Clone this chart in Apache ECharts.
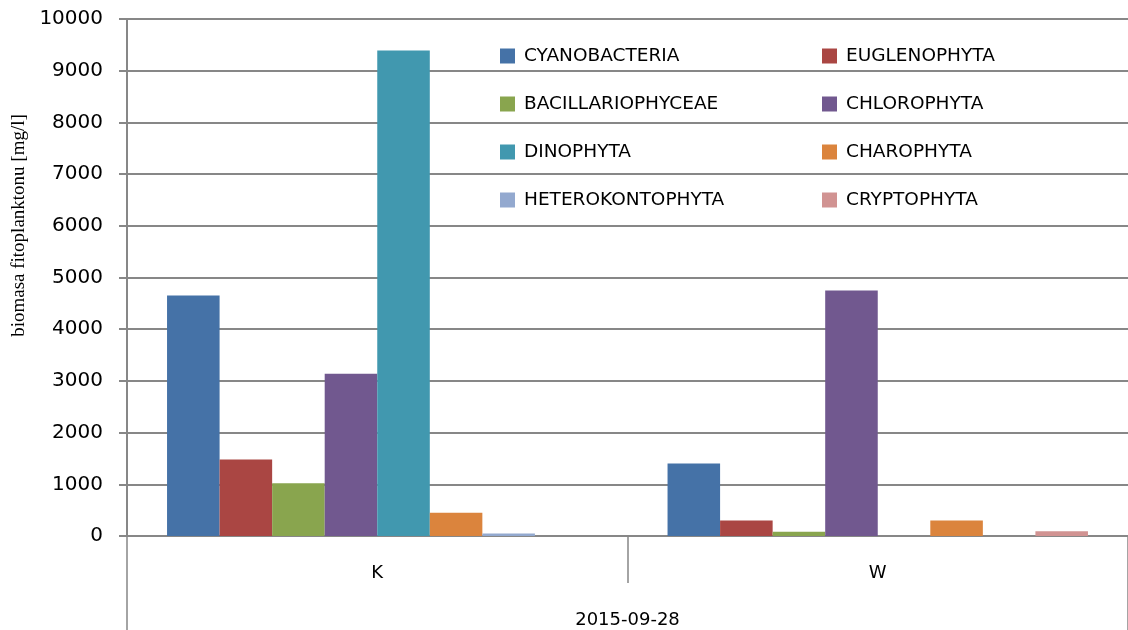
<!DOCTYPE html>
<html>
<head>
<meta charset="utf-8">
<script src="https://cdn.jsdelivr.net/npm/echarts@6/dist/echarts.min.js"></script>
<style>
  html, body { margin: 0; padding: 0; background: #fff; }
  #main { width: 1128px; height: 630px; }
</style>
</head>
<body>
<div id="main"></div>
<script>
// sites and date
var sites = ['K', 'W'];
var dates = ['2015-09-28'];
var yTicks = [0, 10000, 1000]; // min, max, step

// biomass per group, [K, W]
var cyanobacteria     = [4650, 1400];
var euglenophyta      = [1480, 300];
var bacillariophyceae = [1020, 80];
var chlorophyta       = [3140, 4750];
var dinophyta         = [9390, 0];
var charophyta        = [450, 300];
var heterokontophyta  = [50, 0];
var cryptophyta       = [0, 90];

var names = ['CYANOBACTERIA', 'EUGLENOPHYTA', 'BACILLARIOPHYCEAE', 'CHLOROPHYTA',
             'DINOPHYTA', 'CHAROPHYTA', 'HETEROKONTOPHYTA', 'CRYPTOPHYTA'];
var values = [cyanobacteria, euglenophyta, bacillariophyceae, chlorophyta,
              dinophyta, charophyta, heterokontophyta, cryptophyta];
var colors = ['#4572A7', '#AA4643', '#89A54E', '#71588F',
              '#4198AF', '#DB843D', '#93A9CF', '#D19392'];

var gridColor = '#878787';
var font = 'DejaVu Sans';

var chart = echarts.init(document.getElementById('main'));

var series = names.map(function (n, i) {
    return {
        name: n,
        type: 'bar',
        barGap: 0,
        barCategoryGap: '16%',
        itemStyle: { color: colors[i] },
        data: values[i]
    };
});

chart.setOption({
    animation: false,
    color: colors,
    grid: { left: 127, right: -4, top: 19, bottom: 94 },
    legend: {
        left: 495,
        top: 27,
        width: 660,
        orient: 'horizontal',
        itemWidth: 15,
        itemHeight: 15,
        itemGap: 0,
        icon: 'rect',
        textStyle: { fontFamily: font, fontSize: 18.5, color: '#000', width: 298, lineHeight: 48, padding: [0, 0, 0, 4] },
        data: names
    },
    xAxis: [{
        type: 'category',
        data: sites,
        axisLine: { lineStyle: { color: gridColor, width: 2 } },
        axisTick: { show: true, length: 47, interval: 0, lineStyle: { color: gridColor, width: 1.5 } },
        axisLabel: { margin: 28, fontFamily: font, fontSize: 18, color: '#000' }
    }, {
        type: 'category',
        data: dates,
        position: 'bottom',
        axisLine: { show: false },
        axisTick: { show: true, length: 94, interval: 0, lineStyle: { color: gridColor, width: 1.5 } },
        axisLabel: { margin: 75, fontFamily: font, fontSize: 18, color: '#000' }
    }],
    yAxis: {
        type: 'value',
        min: yTicks[0],
        max: yTicks[1],
        interval: yTicks[2],
        name: 'biomasa fitoplanktonu [mg/l]',
        nameLocation: 'middle',
        nameGap: 94,
        nameTextStyle: { fontFamily: 'Liberation Serif', fontSize: 19, color: '#000', padding: [0, 0, 0, 104] },
        axisLine: { show: true, lineStyle: { color: gridColor, width: 2 } },
        axisTick: { show: true, length: 8, lineStyle: { color: gridColor, width: 2 } },
        axisLabel: {
            margin: 24, fontFamily: font, fontSize: 20, color: '#000',
            formatter: function (v) { return String(v); }
        },
        splitLine: { lineStyle: { color: gridColor, width: 2 } }
    },
    series: series
});
</script>
</body>
</html>
